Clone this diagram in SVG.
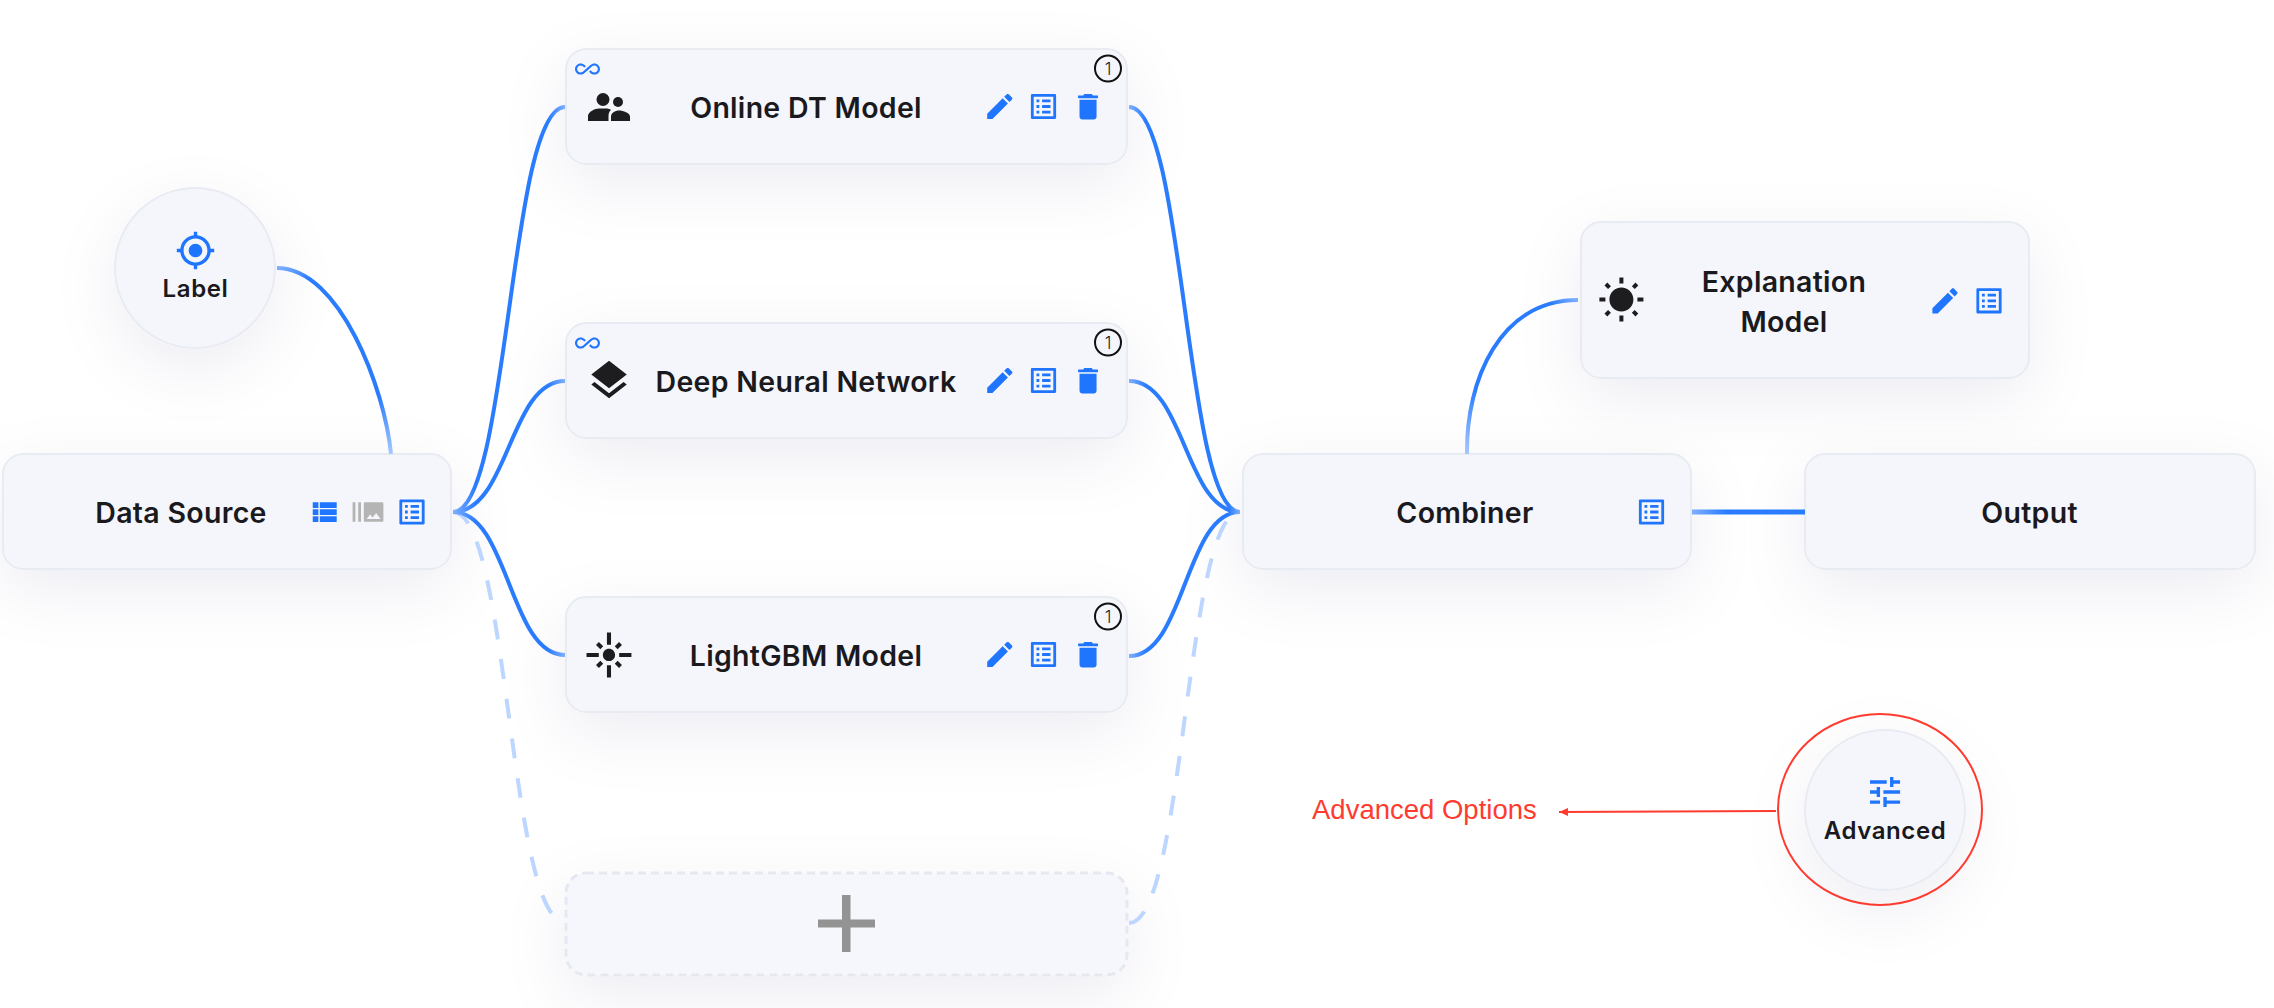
<svg xmlns="http://www.w3.org/2000/svg" xmlns:xlink="http://www.w3.org/1999/xlink" width="2274" height="1008" viewBox="0 0 2274 1008">
<style>
.box{fill:#f5f6fb;stroke:#e9ebf3;stroke-width:2;filter:url(#sh)}
.add{fill:#f6f7fc;stroke:#e6e8f1;stroke-width:3;stroke-dasharray:8 5;filter:url(#sh)}
.t{font-family:Inter,"Liberation Sans",sans-serif;font-weight:600;font-size:28.500px;fill:#1a1a1e;text-anchor:middle;letter-spacing:.3px}
.s{font-size:24px;letter-spacing:.6px}
.b{fill:#1f75fe}.k{fill:#1d1d20}.g{fill:#b4b4b4}
.badge{fill:none;stroke:#111;stroke-width:2}
.n{font-family:Inter,"Liberation Sans",sans-serif;font-size:17px;font-weight:300;fill:#222;text-anchor:middle}
.c{fill:none;stroke-width:4}
.o{stroke-width:5}
.d{fill:none;stroke:#bdd6ff;stroke-width:4;stroke-dasharray:20 20}
</style>
<defs>
<filter id="sh" filterUnits="userSpaceOnUse" x="-150" y="-150" width="2600" height="1350"><feGaussianBlur in="SourceAlpha" stdDeviation="32" result="bl"/><feOffset in="bl" dy="20" result="of"/><feFlood flood-color="#2f3660" flood-opacity=".07"/><feComposite in2="of" operator="in" result="shadow"/><feMerge><feMergeNode in="shadow"/><feMergeNode in="SourceGraphic"/></feMerge></filter>
<linearGradient id="gl" gradientUnits="userSpaceOnUse" x1="453" y1="0" x2="565" y2="0"><stop offset="0" stop-color="#7fb0ff"/><stop offset=".2" stop-color="#2a7cfe"/><stop offset=".85" stop-color="#2a7cfe"/><stop offset="1" stop-color="#7fb0ff"/></linearGradient>
<linearGradient id="gr" gradientUnits="userSpaceOnUse" x1="1129" y1="0" x2="1240" y2="0"><stop offset="0" stop-color="#7fb0ff"/><stop offset=".15" stop-color="#2a7cfe"/><stop offset=".9" stop-color="#2a7cfe"/><stop offset="1" stop-color="#7fb0ff"/></linearGradient>
<linearGradient id="gv" gradientUnits="userSpaceOnUse" x1="277" y1="268" x2="391" y2="454"><stop offset="0" stop-color="#7fb0ff"/><stop offset=".12" stop-color="#2a7cfe"/><stop offset=".75" stop-color="#2a7cfe"/><stop offset="1" stop-color="#a6c8ff"/></linearGradient>
<linearGradient id="ge" gradientUnits="userSpaceOnUse" x1="1467" y1="454" x2="1578" y2="300"><stop offset="0" stop-color="#a6c8ff"/><stop offset=".3" stop-color="#2a7cfe"/><stop offset=".9" stop-color="#2a7cfe"/><stop offset="1" stop-color="#7fb0ff"/></linearGradient>
<linearGradient id="go" gradientUnits="userSpaceOnUse" x1="1692" y1="0" x2="1805" y2="0"><stop offset="0" stop-color="#7fb0ff"/><stop offset=".3" stop-color="#2a7cfe"/><stop offset="1" stop-color="#2a7cfe"/></linearGradient>
<marker id="ar" markerUnits="userSpaceOnUse" markerWidth="10" markerHeight="8" refX="9" refY="4" orient="auto"><path d="M9 4 0 0V8Z" fill="#ff3b30"/></marker>
<path id="edit" d="M3 17.25V21h3.75L17.81 9.94l-3.75-3.75L3 17.25zM20.71 7.04c.39-.39.39-1.02 0-1.41l-2.34-2.34c-.39-.39-1.02-.39-1.41 0l-1.83 1.83 3.75 3.75 1.83-1.83z"/>
<path id="list" d="M19 5v14H5V5h14m1.1-2H3.9c-.5 0-.9.4-.9.9v16.2c0 .4.4.9.9.9h16.2c.4 0 .9-.5.9-.9V3.9c0-.5-.5-.9-.9-.9zM11 7h6v2h-6V7zm0 4h6v2h-6v-2zm0 4h6v2h-6zM7 7h2v2H7zm0 4h2v2H7zm0 4h2v2H7z"/>
<path id="del" d="M6 19c0 1.1.9 2 2 2h8c1.1 0 2-.9 2-2V7H6v12zM19 4h-3.5l-1-1h-5l-1 1H5v2h14V4z"/>
<path id="inf" d="M18.6 6.62c-1.44 0-2.8.56-3.77 1.53L12 10.66 10.48 12h.01L7.8 14.39c-.64.64-1.49.99-2.4.99-1.87 0-3.39-1.51-3.39-3.38S3.53 8.62 5.4 8.62c.91 0 1.76.35 2.44 1.03l1.13 1 1.51-1.34L9.22 8.2C8.2 7.18 6.84 6.62 5.4 6.62 2.42 6.62 0 9.04 0 12s2.42 5.38 5.4 5.38c1.44 0 2.8-.56 3.77-1.53l2.83-2.5.01.01L13.52 12h-.01l2.69-2.39c.64-.64 1.49-.99 2.4-.99 1.87 0 3.39 1.51 3.39 3.38s-1.52 3.38-3.39 3.38c-.9 0-1.76-.35-2.44-1.03l-1.14-1.01-1.51 1.34 1.27 1.12c1.02 1.01 2.37 1.57 3.82 1.57 2.98 0 5.4-2.41 5.4-5.38s-2.42-5.37-5.4-5.37z"/>
<g id="actions" class="b">
<use xlink:href="#edit" href="#edit" transform="translate(983 89.7) scale(1.4)"/>
<use xlink:href="#list" href="#list" transform="translate(1026.7 89.7) scale(1.4)"/>
<use xlink:href="#del" href="#del" transform="translate(1071 89.7) scale(1.42)"/>
</g>
<g id="badge"><circle class="badge" cx="1108" cy="68.500" r="13"/><text class="n" x="1108" y="75">1</text></g>
</defs>
<rect width="2274" height="1008" fill="#fff"/>

<g id="node-label"><circle class="box" cx="195" cy="268" r="80"/>
<path class="b" transform="translate(175.100 230.100) scale(1.7)" d="M12 8c-2.21 0-4 1.79-4 4s1.79 4 4 4 4-1.79 4-4-1.79-4-4-4zm8.94 3c-.46-4.17-3.77-7.48-7.94-7.94V1h-2v2.06C6.83 3.52 3.52 6.83 3.06 11H1v2h2.06c.46 4.17 3.77 7.48 7.94 7.94V23h2v-2.06c4.17-.46 7.48-3.77 7.94-7.94H23v-2h-2.06zM12 19c-3.87 0-7-3.13-7-7s3.13-7 7-7 7 3.13 7 7-3.13 7-7 7z"/>
<text class="t s" x="195.500" y="297">Label</text></g>

<g id="node-data-source"><rect class="box" x="3" y="454" width="448" height="115" rx="20"/>
<text class="t" x="181" y="523">Data Source</text>
<path class="b" transform="translate(307.100 495.200) scale(1.41)" d="M4 14h4v-4H4v4zm0 5h4v-4H4v4zM4 9h4V5H4v4zm5 5h12v-4H9v4zm0 5h12v-4H9v4zM9 5v4h12V5H9z"/>
<path class="g" transform="translate(351.200 495.200) scale(1.4)" d="M1 5h2v14H1zm4 0h2v14H5zm17 0H10c-.55 0-1 .45-1 1v12c0 .55.45 1 1 1h12c.55 0 1-.45 1-1V6c0-.55-.45-1-1-1zM11 17l2.500-3.150L15.290 16l2.500-3.220L21 17H11z"/>
<use class="b" xlink:href="#list" href="#list" transform="translate(395.200 495.200) scale(1.4)"/></g>

<g id="node-online-dt"><rect class="box" x="566" y="49" width="561" height="115" rx="20"/>
<use class="b" xlink:href="#inf" href="#inf" transform="translate(575 56.500) scale(1.04)"/>
<use xlink:href="#badge" href="#badge"/>
<g class="k"><circle cx="603" cy="99.500" r="6.500"/><circle cx="618" cy="102" r="5"/>
<path d="M588 121v-5c0-4 7-7.500 11-7.500h7c2 0 4 .5 5 1.500-2 1.500-2.500 4-2.500 6v5Z"/><path d="M611 121v-4.500c0-3.500 4-6 8-6s11 2.500 11 6V121Z"/></g>
<text class="t" x="806" y="118">Online DT Model</text>
<use xlink:href="#actions" href="#actions"/></g>

<g id="node-dnn"><rect class="box" x="566" y="323" width="561" height="115" rx="20"/>
<use class="b" xlink:href="#inf" href="#inf" transform="translate(575 330.500) scale(1.04)"/>
<use xlink:href="#badge" href="#badge" y="274"/>
<path class="k" transform="translate(585.400 356.800) scale(1.97)" d="M11.990 18.540l-7.370-5.730L3 14.070l9 7 9-7-1.630-1.270-7.380 5.740zM12 16l7.360-5.730L21 9l-9-7-9 7 1.630 1.270L12 16z"/>
<text class="t" x="806" y="392">Deep Neural Network</text>
<use xlink:href="#actions" href="#actions" y="274"/></g>

<g id="node-lightgbm"><rect class="box" x="566" y="597" width="561" height="115" rx="20"/>
<use xlink:href="#badge" href="#badge" y="548"/>
<path class="k" transform="translate(584.500 630.500) scale(2.04)" d="M7 11H1v2h6v-2zm2.170-3.240L7.050 5.640 5.640 7.050l2.120 2.120 1.410-1.410zM13 1h-2v6h2V1zm5.360 6.050l-1.410-1.410-2.120 2.120 1.410 1.410 2.120-2.120zM17 11v2h6v-2h-6zm-5-2c-1.660 0-3 1.340-3 3s1.340 3 3 3 3-1.340 3-3-1.340-3-3-3zm2.830 7.240l2.120 2.120 1.410-1.410-2.120-2.120-1.410 1.410zm-9.190.71l1.410 1.410 2.120-2.120-1.410-1.410-2.120 2.120zM11 23h2v-6h-2v6z"/>
<text class="t" x="806" y="666">LightGBM Model</text>
<use xlink:href="#actions" href="#actions" y="548"/></g>

<g id="node-add"><rect class="add" x="566" y="873" width="561" height="102" rx="20"/>
<path fill="#939393" d="M842 895h8.500v24.500H875v8H850.500V952H842V927.500H818v-8H842Z"/></g>

<g id="node-combiner"><rect class="box" x="1243" y="454" width="448" height="115" rx="20"/>
<text class="t" x="1465" y="523">Combiner</text>
<use class="b" xlink:href="#list" href="#list" transform="translate(1634.700 495.200) scale(1.4)"/></g>

<g id="node-explanation"><rect class="box" x="1581" y="222" width="448" height="156" rx="20"/>
<path class="k" transform="translate(1597.400 276.500) scale(2)" d="M6.760 4.840l-1.800-1.790-1.410 1.410 1.790 1.790 1.420-1.410zM4 10.500H1v2h3v-2zm9-9.950h-2V3.500h2V.55zm7.450 3.910l-1.410-1.410-1.790 1.790 1.410 1.410 1.790-1.790zm-3.210 13.700l1.790 1.800 1.410-1.410-1.800-1.790-1.400 1.400zM20 10.500v2h3v-2h-3zm-8-5c-3.310 0-6 2.690-6 6s2.690 6 6 6 6-2.690 6-6-2.690-6-6-6zm-1 16.950h2V19.500h-2v2.950zm-7.450-3.910l1.410 1.410 1.790-1.800-1.410-1.410-1.790 1.800z"/>
<text class="t" x="1784" y="292">Explanation</text><text class="t" x="1784" y="332">Model</text>
<use class="b" xlink:href="#edit" href="#edit" transform="translate(1928.200 284) scale(1.4)"/>
<use class="b" xlink:href="#list" href="#list" transform="translate(1972.200 284) scale(1.4)"/></g>

<g id="node-output"><rect class="box" x="1805" y="454" width="450" height="115" rx="20"/>
<text class="t" x="2029.500" y="523">Output</text></g>

<g id="node-advanced"><circle class="box" cx="1885" cy="810" r="80"/>
<path class="b" transform="translate(1865 772) scale(1.67)" d="M3 17v2h6v-2H3zM3 5v2h10V5H3zm10 16v-2h8v-2h-8v-2h-2v6h2zM7 9v2H3v2h4v2h2V9H7zm14 4v-2H11v2h10zm-6-4h2V7h4V5h-4V3h-2v6z"/>
<text class="t s" x="1885" y="838.500">Advanced</text></g>

<g id="connectors">
<path class="d" d="M453 512C509 512 509 922 565 922"/>
<path class="d" d="M1129 923C1185 923 1185 512 1240 512"/>
<path class="c" stroke="url(#gl)" d="M453 512C509 512 509 107 565 107"/>
<path class="c" stroke="url(#gl)" d="M453 512C509 512 509 381 565 381"/>
<path class="c" stroke="url(#gl)" d="M453 512C509 512 509 655 565 655"/>
<path class="c" stroke="url(#gr)" d="M1129 107C1185 107 1185 512 1240 512"/>
<path class="c" stroke="url(#gr)" d="M1129 381C1185 381 1185 512 1240 512"/>
<path class="c" stroke="url(#gr)" d="M1129 656C1185 656 1185 512 1240 512"/>
<path class="c" stroke="url(#gv)" d="M277 268C340 268 385 390 391 454"/>
<path class="c" stroke="url(#ge)" d="M1467 454C1466 380 1500 300 1578 300"/>
<path class="c o" stroke="url(#go)" d="M1692 512H1805"/>
</g>

<g id="annotation">
<ellipse cx="1880" cy="809.500" rx="102" ry="95.500" fill="none" stroke="#ff3b30" stroke-width="2"/>
<path d="M1776 811 1559 812" fill="none" stroke="#ff3b30" stroke-width="2" marker-end="url(#ar)"/>
<text x="1312" y="819" font-family="Liberation Sans,sans-serif" font-size="27.500" fill="#ff3b30">Advanced Options</text>
</g>
</svg>
